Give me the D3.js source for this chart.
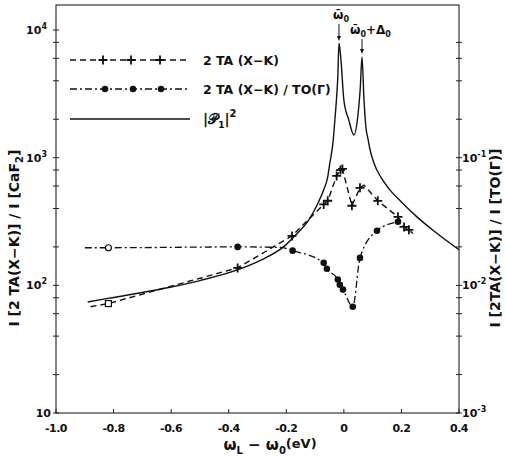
<!DOCTYPE html>
<html><head><meta charset="utf-8">
<script src="https://cdn.jsdelivr.net/npm/d3@7"></script>
<style>
body{margin:0;background:#fff;}
text{font-family:"DejaVu Sans",sans-serif;fill:#111;}
</style></head>
<body><svg id="c" width="506" height="459"></svg>
<script>
// ---------- data ----------
// solid theoretical curve |P1|^2 (left axis units)
const solidX = [-0.89,-0.82,-0.71,-0.60,-0.50,-0.37,-0.29,-0.21,-0.17,-0.12,-0.09,-0.07,-0.056,-0.049,-0.038,-0.031,-0.026,-0.021,-0.017,-0.010,0.0,0.017,0.035,0.049,0.057,0.063,0.070,0.077,0.084,0.090,0.105,0.129,0.16,0.20,0.25,0.314,0.40];
const solidY = [74,79,87,97,109,132,157,200,245,330,440,560,708,900,1300,2000,2800,4300,7900,5830,2830,1977,1507,2160,3500,6150,2830,1700,1400,1180,900,700,560,450,350,265,190];

// dashed series 2TA(X-K) (left axis units); marker: 0 none, 1 plus, 2 open square
const taX = [-0.88,-0.818,-0.369,-0.18,-0.07,-0.056,-0.025,-0.012,-0.005,0.028,0.056,0.070,0.118,0.188,0.209,0.226,0.24];
const taY = [68,72,137,244,430,460,720,800,817,420,581,610,459,344,287,272,255];
const taM = [0,2,1,1,1,1,1,1,1,1,1,0,1,1,1,1,0];

// dash-dot series 2TA(X-K)/TO(Gamma) (right axis units); marker: 0 none, 1 filled circle, 2 open circle
const ratX = [-0.90,-0.818,-0.369,-0.22,-0.178,-0.070,-0.059,-0.021,-0.014,-0.003,0.031,0.056,0.115,0.188];
const ratY = [0.0197,0.0197,0.0200,0.0198,0.0187,0.0150,0.0135,0.0111,0.0101,0.00926,0.0068,0.0164,0.0268,0.0315];
const ratM = [0,2,1,0,1,1,1,1,1,1,1,1,1,1];

const xTicks = [-1.0,-0.8,-0.6,-0.4,-0.2,0,0.2,0.4];
const xTickLabels = ["-1.0","-0.8","-0.6","-0.4","-0.2","0","0.2","0.4"];
const leftMajor = [10,100,1000,10000];
const leftExp = ["","2","3","4"];
const rightMajor = [0.001,0.01,0.1];
const rightExp = ["-3","-2","-1"];
const minorMult = [2,4,6,8];
const peakX = [-0.017,0.063];
const peakY = [7900,6150];

// ---------- layout ----------
const svg = d3.select("#c");
const L=56,R=459,T=5,B=413;
const x = d3.scaleLinear().domain([-1.0,0.4]).range([L,R]);
const yL = d3.scaleLog().domain([10,15700]).range([B,T]);
const yR = d3.scaleLog().domain([0.001,1.57]).range([B,T]);

// frame
svg.append("rect").attr("x",L).attr("y",T).attr("width",R-L).attr("height",B-T)
  .attr("fill","none").attr("stroke","#222").attr("stroke-width",1.1);

// x ticks
const g = svg.append("g");
xTicks.forEach((v,i)=>{
  g.append("line").attr("x1",x(v)).attr("x2",x(v)).attr("y1",B).attr("y2",B-4).attr("stroke","#222");
  g.append("text").attr("x",x(v)).attr("y",432).attr("text-anchor","middle")
   .attr("font-size",11).attr("font-weight","bold").attr("letter-spacing","-0.5").text(xTickLabels[i]);
});
// left/right ticks
function logTicks(scale, majors){
  const all=[];
  majors.forEach(m=>{ all.push(m); minorMult.forEach(k=>{ all.push(m*k);});});
  const d=scale.domain();
  return all.filter(v=>v>=d[0]*0.999 && v<=d[1]);
}
logTicks(yL,leftMajor).forEach(v=>{
  g.append("line").attr("x1",L-3).attr("x2",L+3).attr("y1",yL(v)).attr("y2",yL(v)).attr("stroke","#222");
});
logTicks(yR,rightMajor).forEach(v=>{
  g.append("line").attr("x1",R-3).attr("x2",R+3).attr("y1",yR(v)).attr("y2",yR(v)).attr("stroke","#222");
});
leftMajor.forEach((v,i)=>{
  const t=g.append("text").attr("x",leftExp[i]?47:51).attr("y",yL(v)+4).attr("text-anchor","end")
   .attr("font-size",11).attr("font-weight","bold");
  t.append("tspan").text("10");
  if(leftExp[i]) t.append("tspan").attr("dy",-5).attr("font-size",8).text(leftExp[i]);
});
rightMajor.forEach((v,i)=>{
  const t=g.append("text").attr("x",R+3).attr("y",yR(v)+4)
   .attr("font-size",11).attr("font-weight","bold");
  t.append("tspan").text("10");
  t.append("tspan").attr("dy",-5).attr("font-size",8).text(rightExp[i]);
});

// axis titles
const xt = svg.append("text").attr("x",270).attr("y",450).attr("text-anchor","middle")
  .attr("font-size",15).attr("font-weight","bold");
xt.append("tspan").text("ω");
xt.append("tspan").attr("dy",4).attr("font-size",10).text("L");
xt.append("tspan").attr("dy",-4).text(" − ω");
xt.append("tspan").attr("dy",4).attr("font-size",10).text("0");
xt.append("tspan").attr("dy",-6).attr("font-size",13).text("(eV)");

const yl = svg.append("text").attr("transform","translate(19,238) rotate(-90)").attr("text-anchor","middle")
  .attr("font-size",14).attr("font-weight","bold");
yl.append("tspan").text("I [2 TA(X−K)] / I [CaF");
yl.append("tspan").attr("dy",4).attr("font-size",10).text("2");
yl.append("tspan").attr("dy",-4).text("]");

const yr = svg.append("text").attr("transform","translate(500,238) rotate(-90)").attr("text-anchor","middle")
  .attr("font-size",14).attr("font-weight","bold")
  .text("I [2TA(X−K)] / I [TO(Γ)]");

// ---------- series ----------
const plot = svg.append("g");
const solidData = solidX.map((v,i)=>[v,solidY[i]]);
plot.append("path").datum(solidData).attr("fill","none").attr("stroke","#111").attr("stroke-width",1.4)
  .attr("d",d3.line().x(d=>x(d[0])).y(d=>yL(d[1])).curve(d3.curveMonotoneX));

const taData = taX.map((v,i)=>[v,taY[i],taM[i]]);
plot.append("path").datum(taData).attr("fill","none").attr("stroke","#111").attr("stroke-width",1.4)
  .attr("stroke-dasharray","6,4")
  .attr("d",d3.line().x(d=>x(d[0])).y(d=>yL(d[1])).curve(d3.curveLinear));

const ratData = ratX.map((v,i)=>[v,ratY[i],ratM[i]]);
plot.append("path").datum(ratData).attr("fill","none").attr("stroke","#111").attr("stroke-width",1.3)
  .attr("stroke-dasharray","7,3,2,3")
  .attr("d",d3.line().x(d=>x(d[0])).y(d=>yR(d[1])).curve(d3.curveMonotoneX));

function plus(sel,cx,cy,s){
  sel.append("path").attr("d",`M${cx-s},${cy}H${cx+s}M${cx},${cy-s}V${cy+s}`)
    .attr("stroke","#111").attr("stroke-width",1.8).attr("fill","none");
}
taData.forEach(d=>{
  if(d[2]===1) plus(plot,x(d[0]),yL(d[1]),4.5);
  if(d[2]===2) plot.append("rect").attr("x",x(d[0])-3).attr("y",yL(d[1])-3).attr("width",6).attr("height",6)
     .attr("fill","#fff").attr("stroke","#111").attr("stroke-width",1.2);
});
ratData.forEach(d=>{
  if(d[2]===1) plot.append("circle").attr("cx",x(d[0])).attr("cy",yR(d[1])).attr("r",3.3).attr("fill","#111");
  if(d[2]===2) plot.append("circle").attr("cx",x(d[0])).attr("cy",yR(d[1])).attr("r",3).attr("fill","#fff")
     .attr("stroke","#111").attr("stroke-width",1.2);
});

// ---------- peak annotations ----------
const ann = svg.append("g");
const lab1 = ann.append("text").attr("x",x(peakX[0])+2).attr("y",19).attr("text-anchor","middle")
  .attr("font-size",12).attr("font-weight","bold");
lab1.append("tspan").text("ω̄");
lab1.append("tspan").attr("dy",3).attr("font-size",8).text("0");
const lab2 = ann.append("text").attr("x",x(peakX[1])-12).attr("y",34)
  .attr("font-size",12).attr("font-weight","bold");
lab2.append("tspan").text("ω̄");
lab2.append("tspan").attr("dy",3).attr("font-size",8).text("0");
lab2.append("tspan").attr("dy",-3).text("+Δ");
lab2.append("tspan").attr("dy",3).attr("font-size",8).text("0");
[[peakX[0],24,yL(peakY[0])-2],[peakX[1],39,yL(peakY[1])-3]].forEach(a=>{
  const px=x(a[0]);
  ann.append("line").attr("x1",px).attr("x2",px).attr("y1",a[1]).attr("y2",a[2]-3).attr("stroke","#111").attr("stroke-width",1);
  ann.append("path").attr("d",`M${px-2},${a[2]-5}L${px+2},${a[2]-5}L${px},${a[2]}Z`).attr("fill","#111");
});

// ---------- legend ----------
const lg = svg.append("g");
const ly=[60,89,119];
lg.append("line").attr("x1",70).attr("x2",190).attr("y1",ly[0]).attr("y2",ly[0]).attr("stroke","#111").attr("stroke-width",1.4).attr("stroke-dasharray","6,4");
[103,131,160].forEach(px=>plus(lg,px,ly[0],4.5));
lg.append("line").attr("x1",70).attr("x2",190).attr("y1",ly[1]).attr("y2",ly[1]).attr("stroke","#111").attr("stroke-width",1.3).attr("stroke-dasharray","7,3,2,3");
[105,133,161].forEach(px=>lg.append("circle").attr("cx",px).attr("cy",ly[1]).attr("r",3.3).attr("fill","#111"));
lg.append("line").attr("x1",70).attr("x2",190).attr("y1",ly[2]).attr("y2",ly[2]).attr("stroke","#111").attr("stroke-width",1.5);
lg.append("text").attr("x",203).attr("y",ly[0]+5).attr("font-size",12.5).attr("font-weight","bold").text("2 TA (X−K)");
lg.append("text").attr("x",203).attr("y",ly[1]+5).attr("font-size",12.5).attr("font-weight","bold").text("2 TA (X−K) / TO(Γ)");
const l3 = lg.append("text").attr("x",203).attr("y",ly[2]+5).attr("font-size",14).attr("font-weight","bold");
l3.append("tspan").text("|𝒫");
l3.append("tspan").attr("dy",4).attr("font-size",9).text("1");
l3.append("tspan").attr("dy",-4).text("|");
l3.append("tspan").attr("dy",-7).attr("font-size",10).text("2");
</script></body></html>
